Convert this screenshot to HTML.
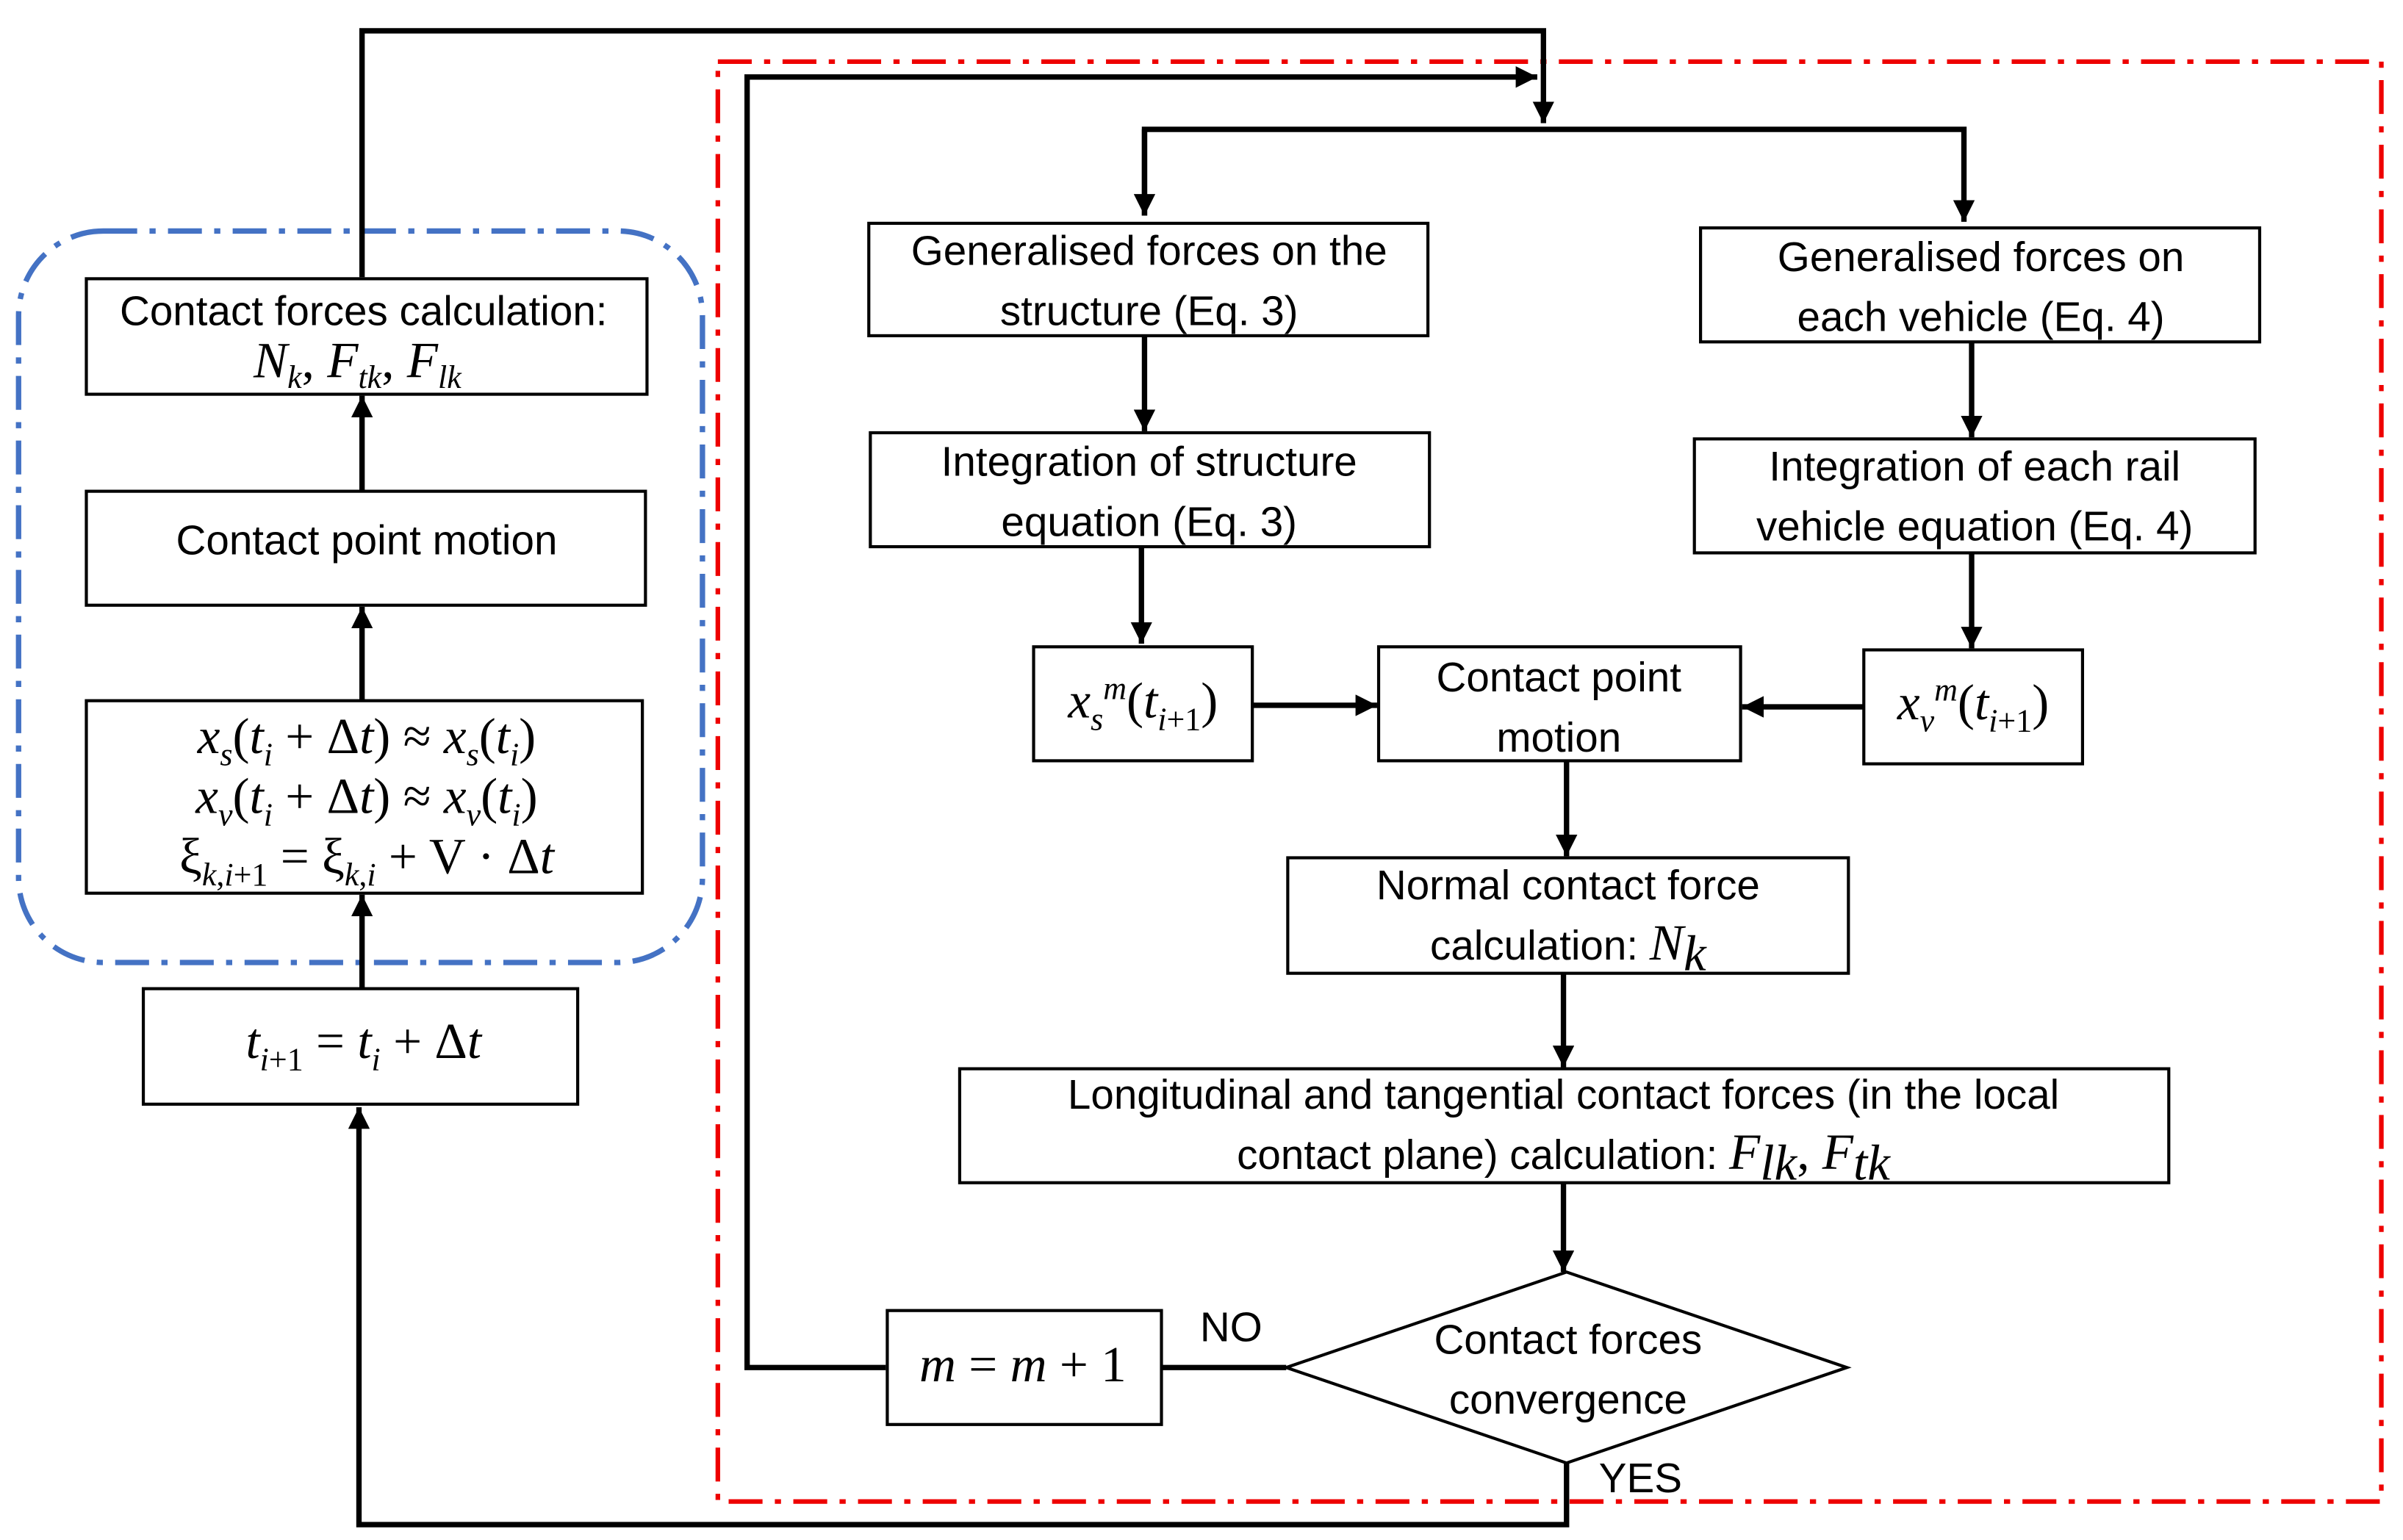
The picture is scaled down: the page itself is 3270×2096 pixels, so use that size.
<!DOCTYPE html>
<html><head><meta charset="utf-8"><style>
html,body{margin:0;padding:0;background:#fff;}
svg{display:block;}
text{font-family:"Liberation Sans","DejaVu Sans",sans-serif;font-size:27px;fill:#000;}
.m{font-family:"Liberation Serif","DejaVu Serif",serif;font-size:33px;}
.i{font-style:italic;}
</style></head><body>
<svg width="3270" height="2096" viewBox="0 0 1560 1000" xmlns="http://www.w3.org/2000/svg">
<defs>
<marker id="b" viewBox="0 0 10 10" markerWidth="14" markerHeight="14" refX="10" refY="5" orient="auto" markerUnits="userSpaceOnUse"><path d="M0,0 L10,5 L0,10 z" fill="#000"/></marker></defs>
<rect x="466" y="40" width="1080" height="935" fill="none" stroke="#e00" stroke-width="3" stroke-dasharray="22,8,4,8"/>
<rect x="12" y="150" width="444" height="475" rx="55" fill="none" stroke="#4472c4" stroke-width="3.5" stroke-dasharray="22,8,4,8"/>
<g stroke="#000" stroke-width="3.5" fill="none">
<polyline points="235,180 235,20 1002,20 1002,80" marker-end="url(#b)"/>
<polyline points="575,888 485,888 485,50 998,50" marker-end="url(#b)"/>
<polyline points="743,140 743,84 1275,84 1275,144" marker-end="url(#b)"/>
<line x1="743" y1="84" x2="743" y2="140" marker-end="url(#b)"/>
<line x1="743" y1="218" x2="743" y2="280" marker-end="url(#b)"/>
<line x1="1280" y1="222" x2="1280" y2="284" marker-end="url(#b)"/>
<line x1="741" y1="355" x2="741" y2="418" marker-end="url(#b)"/>
<line x1="1280" y1="359" x2="1280" y2="421" marker-end="url(#b)"/>
<line x1="813" y1="458" x2="894" y2="458" marker-end="url(#b)"/>
<line x1="1210" y1="459" x2="1131" y2="459" marker-end="url(#b)"/>
<line x1="1017" y1="494" x2="1017" y2="556" marker-end="url(#b)"/>
<line x1="1015" y1="632" x2="1015" y2="693" marker-end="url(#b)"/>
<line x1="1015" y1="768" x2="1015" y2="826" marker-end="url(#b)"/>
<line x1="754" y1="888" x2="835" y2="888"/>
<polyline points="1017,950 1017,990 233,990 233,719" marker-end="url(#b)"/>
<line x1="235" y1="642" x2="235" y2="581" marker-end="url(#b)"/>
<line x1="235" y1="455" x2="235" y2="394" marker-end="url(#b)"/>
<line x1="235" y1="319" x2="235" y2="257" marker-end="url(#b)"/>
</g>
<g stroke="#000" stroke-width="2" fill="#fff">
<rect x="564" y="145" width="363" height="73"/>
<rect x="1104" y="148" width="363" height="74"/>
<rect x="565" y="281" width="363" height="74"/>
<rect x="1100" y="285" width="364" height="74"/>
<rect x="671" y="420" width="142" height="74"/>
<rect x="1210" y="422" width="142" height="74"/>
<rect x="895" y="420" width="235" height="74"/>
<rect x="836" y="557" width="364" height="75"/>
<rect x="623" y="694" width="785" height="74"/>
<polygon points="835,888 1017,826 1199,888 1017,950"/>
<rect x="576" y="851" width="178" height="74"/>
<rect x="93" y="642" width="282" height="75"/>
<rect x="56" y="455" width="361" height="125"/>
<rect x="56" y="319" width="363" height="74"/>
<rect x="56" y="181" width="364" height="75"/>
</g>
<g text-anchor="middle">
<text x="746" y="172">Generalised forces on the</text>
<text x="746" y="211">structure (Eq. 3)</text>
<text x="1286" y="176">Generalised forces on</text>
<text x="1286" y="215">each vehicle (Eq. 4)</text>
<text x="746" y="309">Integration of structure</text>
<text x="746" y="348">equation (Eq. 3)</text>
<text x="1282" y="312">Integration of each rail</text>
<text x="1282" y="351">vehicle equation (Eq. 4)</text>
<text class="m" x="742" y="466"><tspan class="i">x</tspan><tspan class="i" font-size="21" dy="8">s</tspan><tspan class="i" font-size="21" dy="-20">m</tspan><tspan dy="12">(</tspan><tspan class="i">t</tspan><tspan class="i" font-size="21" dy="8">i</tspan><tspan font-size="21">+1</tspan><tspan dy="-8">)</tspan></text>
<text class="m" x="1281" y="467"><tspan class="i">x</tspan><tspan class="i" font-size="21" dy="8">v</tspan><tspan class="i" font-size="21" dy="-20">m</tspan><tspan dy="12">(</tspan><tspan class="i">t</tspan><tspan class="i" font-size="21" dy="8">i</tspan><tspan font-size="21">+1</tspan><tspan dy="-8">)</tspan></text>
<text x="1012" y="449">Contact point</text>
<text x="1012" y="488">motion</text>
<text x="1018" y="584">Normal contact force</text>
<text x="1018" y="623">calculation: <tspan class="m i">N</tspan><tspan class="m i" font-size="21" dy="7">k</tspan></text>
<text x="1015" y="720">Longitudinal and tangential contact forces (in the local</text>
<text x="1015" y="759">contact plane) calculation: <tspan class="m i">F</tspan><tspan class="m i" font-size="21" dy="7">lk</tspan><tspan class="m" dy="-7">, </tspan><tspan class="m i">F</tspan><tspan class="m i" font-size="21" dy="7">tk</tspan></text>
<text x="1018" y="879">Contact forces</text>
<text x="1018" y="918">convergence</text>
<text class="m" x="664" y="897"><tspan class="i">m</tspan> = <tspan class="i">m</tspan> + 1</text>
<text class="m" x="236" y="687"><tspan class="i">t</tspan><tspan class="i" font-size="21" dy="8">i</tspan><tspan font-size="21">+1</tspan><tspan dy="-8"> = </tspan><tspan class="i">t</tspan><tspan class="i" font-size="21" dy="8">i</tspan><tspan dy="-8"> + Δ</tspan><tspan class="i">t</tspan></text>
<text class="m" x="238" y="489"><tspan class="i">x</tspan><tspan class="i" font-size="21" dy="8">s</tspan><tspan dy="-8">(</tspan><tspan class="i">t</tspan><tspan class="i" font-size="21" dy="8">i</tspan><tspan dy="-8"> + Δ</tspan><tspan class="i">t</tspan>) ≈ <tspan class="i">x</tspan><tspan class="i" font-size="21" dy="8">s</tspan><tspan dy="-8">(</tspan><tspan class="i">t</tspan><tspan class="i" font-size="21" dy="8">i</tspan><tspan dy="-8">)</tspan></text>
<text class="m" x="238" y="528"><tspan class="i">x</tspan><tspan class="i" font-size="21" dy="8">v</tspan><tspan dy="-8">(</tspan><tspan class="i">t</tspan><tspan class="i" font-size="21" dy="8">i</tspan><tspan dy="-8"> + Δ</tspan><tspan class="i">t</tspan>) ≈ <tspan class="i">x</tspan><tspan class="i" font-size="21" dy="8">v</tspan><tspan dy="-8">(</tspan><tspan class="i">t</tspan><tspan class="i" font-size="21" dy="8">i</tspan><tspan dy="-8">)</tspan></text>
<text class="m" x="238" y="567">ξ<tspan class="i" font-size="21" dy="8">k</tspan><tspan font-size="21">,</tspan><tspan class="i" font-size="21">i</tspan><tspan font-size="21">+1</tspan><tspan dy="-8"> = ξ</tspan><tspan class="i" font-size="21" dy="8">k</tspan><tspan font-size="21">,</tspan><tspan class="i" font-size="21">i</tspan><tspan dy="-8"> + V · Δ</tspan><tspan class="i">t</tspan></text>
<text x="238" y="360">Contact point motion</text>
<text x="236" y="211">Contact forces calculation:</text>
<text class="m" x="232" y="245"><tspan class="i">N</tspan><tspan class="i" font-size="21" dy="7">k</tspan><tspan dy="-7">, </tspan><tspan class="i">F</tspan><tspan class="i" font-size="21" dy="7">tk</tspan><tspan dy="-7">, </tspan><tspan class="i">F</tspan><tspan class="i" font-size="21" dy="7">lk</tspan></text>
</g>
<text x="779" y="871">NO</text>
<text x="1038" y="969">YES</text>
</svg>
</body></html>
